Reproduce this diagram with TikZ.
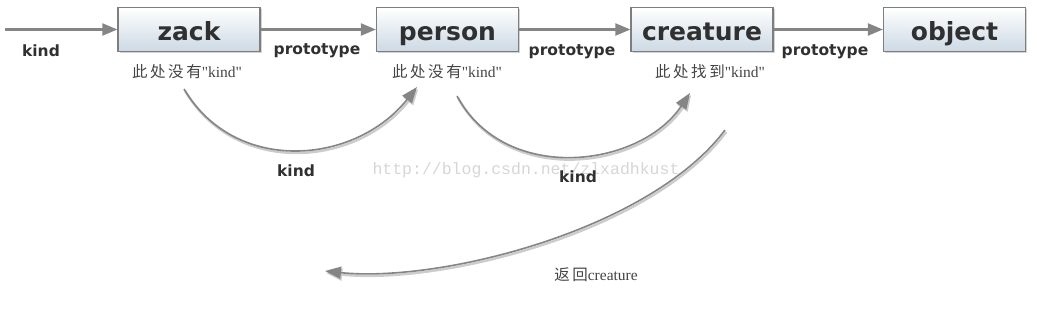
\documentclass[tikz,border=0pt]{standalone}
\usepackage{fontspec}
\newfontfamily\labfont{DejaVu Sans}
\newfontfamily\cjk{Noto Sans CJK SC}
\newfontfamily\serfont{Liberation Serif}
\newfontfamily\wmfont{Liberation Mono}
\usetikzlibrary{arrows.meta,shadows}
\definecolor{linegray}{HTML}{858585}
\definecolor{boxborder}{HTML}{7E7E7E}
\definecolor{boxbottom}{HTML}{CCD9E4}
\definecolor{textdark}{HTML}{303030}
\definecolor{notegray}{HTML}{444444}
\definecolor{wmgray}{HTML}{D6D6D6}
\begin{document}
\begin{tikzpicture}[x=1pt,y=-1pt,
  objbox/.style={draw=boxborder, line width=1.2pt, top color=white, bottom color=boxbottom,
    minimum width=142pt, minimum height=44pt, inner sep=0pt, text height=24pt, text depth=3pt,
    font=\labfont\bfseries\fontsize{25}{25}\selectfont, text=textdark,
    drop shadow={shadow xshift=1.5pt, shadow yshift=-1.5pt, opacity=0.35}},
  harrow/.style={draw=linegray, line width=2.1pt, -{Triangle[length=15pt,width=12pt]}},
  curvearrow/.style={draw=linegray, line width=1.6pt, -{Triangle[length=16pt,width=12pt]},
    preaction={draw=black!20, line width=2.4pt, transform canvas={shift={(1.2pt,-2pt)}}}},
  boldlab/.style={font=\labfont\bfseries\fontsize{15.5}{15.5}\selectfont, text=textdark, inner sep=0pt},
  note/.style={font=\fontsize{15.5}{15.5}\selectfont, text=notegray, inner sep=0pt}
]
\useasboundingbox (0,0) rectangle (1037,317);

% boxes
\node[objbox] (zack) at (189,29.5) {zack};
\node[objbox] (person) at (447.5,29.5) {person};
\node[objbox] (creature) at (702,29.5) {creature};
\node[objbox] (object) at (954.5,29.5) {object};

% incoming arrow
\coordinate (start) at (5,29.5);
\draw[harrow] (start) -- (zack);
\draw[harrow] (zack) -- (person);
\draw[harrow] (person) -- (creature);
\draw[harrow] (creature) -- (object);

% labels of straight arrows
\node[boldlab] (kindin) at (41,51) {kind};
\node[boldlab] (proto1) at (317,51) {prototype};
\node[boldlab] (proto2) at (572,52) {prototype};
\node[boldlab] (proto3) at (825,52) {prototype};

% notes
\node[note] (note1) at (187,72) {{\cjk 此\,处\,没\,有}{\serfont "kind"}};
\node[note] (note2) at (447,72) {{\cjk 此\,处\,没\,有}{\serfont "kind"}};
\node[note] (note3) at (710,72) {{\cjk 此\,处\,找\,到}{\serfont "kind"}};

% curved arrows
\coordinate (c1s) at (184,89);
\coordinate (c1e) at (417,87);
\coordinate (c2s) at (457,96);
\coordinate (c2e) at (690,93);
\coordinate (c3s) at (725,130);
\coordinate (c3e) at (325,271);
\draw[curvearrow] (c1s) .. controls (235,175) and (355,165) .. (c1e);
\draw[curvearrow] (c2s) .. controls (505,185) and (640,168) .. (c2e);
\draw[curvearrow] (c3s) .. controls (650,230) and (440,283) .. (c3e);

% watermark
\node[font=\wmfont\fontsize{16.5}{16.5}\selectfont, text=wmgray, inner sep=0pt] (wm) at (526,170) {http://blog.csdn.net/zlxadhkust};

\node[boldlab] (kind1) at (296,171) {kind};
\node[boldlab] (kind2) at (578,177) {kind};
\node[note] (ret) at (596,275) {{\cjk 返\,回}{\serfont creature}};
\end{tikzpicture}
\end{document}
